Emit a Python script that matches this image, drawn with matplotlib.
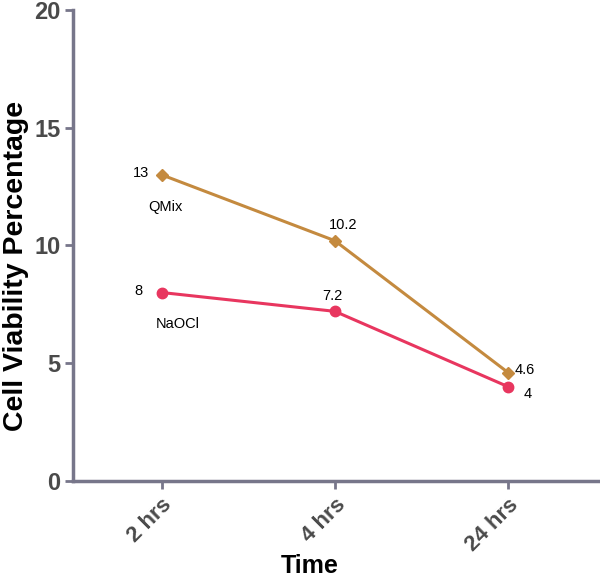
import matplotlib.pyplot as plt

plt.rcParams['font.family'] = ['Liberation Sans', 'DejaVu Sans']

times = ['2 hrs', '4 hrs', '24 hrs']
qmix = [13, 10.2, 4.6]
naocl = [8, 7.2, 4]
qmix_labels = ['13', '10.2', '4.6']
naocl_labels = ['8', '7.2', '4']

axis_col = '#77768a'
tick_col = '#4a4a4a'

fig = plt.figure(figsize=(6, 5.85), dpi=100)
ax = fig.add_axes([0.122, 0.178, 0.875, 0.805])

x = list(range(len(times)))
ax.plot(x, qmix, color='#c48a3f', lw=2.2, marker='D', ms=6.5)
ax.plot(x, naocl, color='#e8365f', lw=2.2, marker='o', ms=7.5)

# point labels
fs = 10.5
ax.annotate(qmix_labels[0], (x[0], qmix[0]), xytext=(-9, 1), textcoords='offset points',
            ha='right', va='center', fontsize=fs)
ax.annotate(qmix_labels[1], (x[1], qmix[1]), xytext=(-4, 6), textcoords='offset points',
            ha='left', va='bottom', fontsize=fs)
ax.annotate(qmix_labels[2], (x[2], qmix[2]), xytext=(5, 2), textcoords='offset points',
            ha='left', va='center', fontsize=fs)
ax.annotate(naocl_labels[0], (x[0], naocl[0]), xytext=(-14, 1), textcoords='offset points',
            ha='right', va='center', fontsize=fs)
ax.annotate(naocl_labels[1], (x[1], naocl[1]), xytext=(-2, 6), textcoords='offset points',
            ha='center', va='bottom', fontsize=fs)
ax.annotate(naocl_labels[2], (x[2], naocl[2]), xytext=(11, -5), textcoords='offset points',
            ha='left', va='center', fontsize=fs)
ax.annotate('QMix', (x[0], qmix[0]), xytext=(3, -23), textcoords='offset points',
            ha='center', va='center', fontsize=fs)
ax.annotate('NaOCl', (x[0], naocl[0]), xytext=(12, -23), textcoords='offset points',
            ha='center', va='center', fontsize=fs)

ax.set_xlim(-0.51, 2.52)
ax.set_ylim(0, 20)
ax.set_yticks([0, 5, 10, 15, 20])
ax.set_xticks(x)
ax.set_xticklabels(times, rotation=45, ha='right', rotation_mode='anchor')

for s in ['top', 'right']:
    ax.spines[s].set_visible(False)
for s in ['left', 'bottom']:
    ax.spines[s].set_color(axis_col)
    ax.spines[s].set_linewidth(2.5)
ax.tick_params(colors=axis_col, width=2, length=6, direction='out')
ax.tick_params(axis='y', labelcolor=tick_col, labelsize=17, pad=3)
ax.tick_params(axis='x', labelcolor=tick_col, labelsize=16, pad=4)
for lab in ax.get_xticklabels() + ax.get_yticklabels():
    lab.set_fontweight('bold')

ax.set_ylabel('Cell Viability Percentage', fontsize=20.5, fontweight='bold')
ax.yaxis.set_label_coords(-0.084, 0.456)
ax.set_xlabel('Time', fontsize=18, fontweight='bold')
ax.xaxis.set_label_coords(0.45, -0.155)

fig.savefig('out.png', dpi=100)
